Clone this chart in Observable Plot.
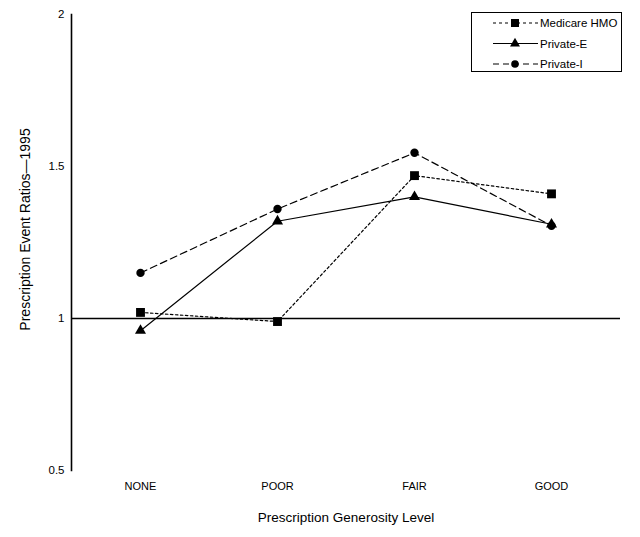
<!DOCTYPE html>
<html>
<head>
<meta charset="utf-8">
<script src="https://cdn.jsdelivr.net/npm/d3@7"></script>
<script src="https://cdn.jsdelivr.net/npm/@observablehq/plot@0.6"></script>
<style>
  html, body { margin: 0; padding: 0; background: #fff; }
  #wrap { position: relative; width: 640px; height: 537px; font-family: "Liberation Sans", Arial, sans-serif; }
  #legend { position: absolute; left: 471px; top: 12px; width: 149px; height: 58px; border: 1.5px solid #000; background: #fff; }
</style>
</head>
<body>
<div id="wrap"><div id="legend"></div></div>
<script>
const categories = ["NONE", "POOR", "FAIR", "GOOD"];
const seriesNames = ["Medicare HMO", "Private-E", "Private-I"];
const medicareHMO = [1.02, 0.99, 1.47, 1.41];
const privateE = [0.96, 1.32, 1.40, 1.31];
const privateI = [1.15, 1.36, 1.545, 1.305];
const yTicks = [0.5, 1, 1.5, 2];
const yTickLabels = ["0.5", "1", "1.5", "2"];
const referenceValue = [1];

const styles = {
  "Medicare HMO": {dash: "2.5,2.5", legendDash: "3,3", symbol: "square", r: 5, lr: 4.5},
  "Private-E": {dash: null, legendDash: null, symbol: "triangle", r: 4.1, lr: 3.7},
  "Private-I": {dash: "7,4", legendDash: "6,4", symbol: "circle", r: 4.2, lr: 3.8}
};
const seriesValues = [medicareHMO, privateE, privateI];
const data = [];
seriesNames.forEach((s, i) => categories.forEach((c, j) => data.push({series: s, level: c, value: seriesValues[i][j]})));

const marks = [
  Plot.ruleY(referenceValue, {stroke: "#000", strokeWidth: 1.3}),
  Plot.frame({anchor: "left", stroke: "#000", strokeWidth: 1.6}),
  Plot.axisX({tickSize: 0, tickPadding: 12, fontSize: 11, label: null}),
  Plot.axisY({ticks: yTicks, tickFormat: (d) => yTickLabels[yTicks.indexOf(d)], tickSize: 0, tickPadding: 7, fontSize: 11.5, label: null})
];
seriesNames.forEach((s) => {
  const st = styles[s];
  const sub = data.filter((d) => d.series === s);
  marks.push(Plot.line(sub, {x: "level", y: "value", stroke: "#000", strokeWidth: 1.2, strokeDasharray: st.dash}));
  marks.push(Plot.dot(sub, {x: "level", y: "value", fill: "#000", stroke: "none", symbol: st.symbol, r: st.r}));
});

const chart = Plot.plot({
  width: 640,
  height: 537,
  marginLeft: 71,
  marginRight: 20,
  marginTop: 14,
  marginBottom: 67,
  style: {fontFamily: "'Liberation Sans', Arial, sans-serif", color: "#000", background: "#fff"},
  x: {type: "point", domain: categories, padding: 0.5, axis: null},
  y: {domain: [0.5, 2], axis: null},
  marks: [
    ...marks,
    Plot.text(["Prescription Generosity Level"], {frameAnchor: "bottom", dy: 51, fontSize: 13.5, fill: "#000"}),
    Plot.text(["Prescription Event Ratios\u20141995"], {frameAnchor: "left", textAnchor: "middle", dx: -46, dy: -13, rotate: -90, fontSize: 14, fill: "#000"})
  ]
});
document.getElementById("wrap").prepend(chart);

// legend
const lw = 149, lh = 58;
const lsvg = d3.select("#legend").append("svg").attr("width", lw).attr("height", lh)
  .style("font-family", "'Liberation Sans', Arial, sans-serif");
seriesNames.forEach((s, i) => {
  const st = styles[s];
  const y = 10 + i * 20.5;
  const g = lsvg.append("g");
  g.append("line").attr("x1", 21).attr("x2", 66).attr("y1", y).attr("y2", y)
    .attr("stroke", "#000").attr("stroke-width", 1.2).attr("stroke-dasharray", st.legendDash);
  const sym = {square: d3.symbolSquare, triangle: d3.symbolTriangle, circle: d3.symbolCircle}[st.symbol];
  g.append("path").attr("d", d3.symbol(sym, Math.PI * st.lr * st.lr)()).attr("transform", `translate(43,${y})`).attr("fill", "#000");
  g.append("text").attr("x", 68).attr("y", y).attr("dy", "0.35em").attr("font-size", 11.5).text(s);
});
</script>
</body>
</html>
